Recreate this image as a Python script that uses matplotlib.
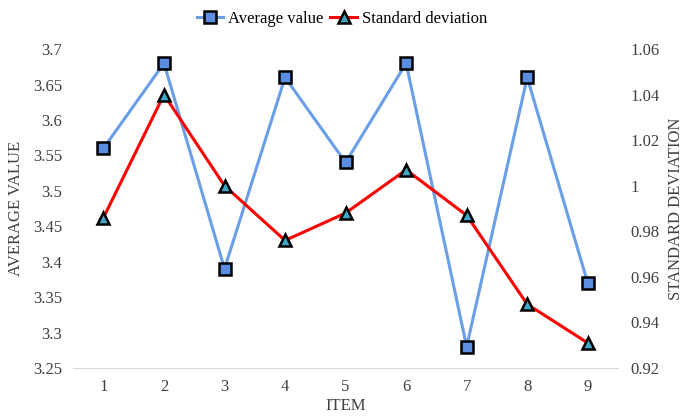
import numpy as np
import matplotlib.pyplot as plt

plt.rcParams['font.family'] = ['Liberation Serif', 'DejaVu Serif']

items = ['1', '2', '3', '4', '5', '6', '7', '8', '9']
avg_value = [3.56, 3.68, 3.39, 3.66, 3.54, 3.68, 3.28, 3.66, 3.37]
std_dev = [0.986, 1.040, 1.000, 0.976, 0.988, 1.007, 0.987, 0.948, 0.931]

fig = plt.figure(figsize=(6.84, 4.16), dpi=100)
ax = fig.add_axes([0.107, 0.1154, 0.7965, 0.7666])
ax2 = ax.twinx()

x = np.arange(1, len(items) + 1)
l1, = ax.plot(x, avg_value, color='#6a9ee6', lw=2.2, marker='s', ms=8,
              mfc='#5b8ee0', mec='black', mew=1.8, label='Average value')
l2, = ax2.plot(x, std_dev, color='#ff0000', lw=2.2, marker='^', ms=8,
               mfc='#3fa8c8', mec='black', mew=1.8, label='Standard deviation')

ax.set_xlim(0.5, 9.5)
ax.set_ylim(3.25, 3.7)
ax.set_yticks(np.arange(3.25, 3.701, 0.05))
ax.set_yticklabels(['3.25', '3.3', '3.35', '3.4', '3.45', '3.5', '3.55', '3.6', '3.65', '3.7'])
ax2.set_ylim(0.92, 1.06)
ax2.set_yticks(np.arange(0.92, 1.0601, 0.02))
ax2.set_yticklabels(['0.92', '0.94', '0.96', '0.98', '1', '1.02', '1.04', '1.06'])
ax.set_xticks(x)
ax.set_xticklabels(items)

for a in (ax, ax2):
    for s in ['top', 'left', 'right', 'bottom']:
        a.spines[s].set_visible(False)
    a.tick_params(length=0, labelsize=12, colors='#404040')
ax.spines['bottom'].set_visible(True)
ax.spines['bottom'].set_color('#d9d9d9')
ax.tick_params(axis='y', pad=8)
ax.tick_params(axis='x', pad=8)
ax2.tick_params(axis='y', pad=9)

ax.set_xlabel('ITEM', fontsize=12, color='#404040', labelpad=2)
ax.set_ylabel('AVERAGE VALUE', fontsize=12, color='#404040', labelpad=6)
ax2.set_ylabel('STANDARD DEVIATION', fontsize=12, color='#404040', labelpad=6)

fig.legend(handles=[l1, l2], loc='upper center', bbox_to_anchor=(0.5, 1.01),
           ncol=2, frameon=False, fontsize=12, handlelength=1.6,
           columnspacing=0.4, handletextpad=0.3)

fig.savefig('out.png', dpi=100)
